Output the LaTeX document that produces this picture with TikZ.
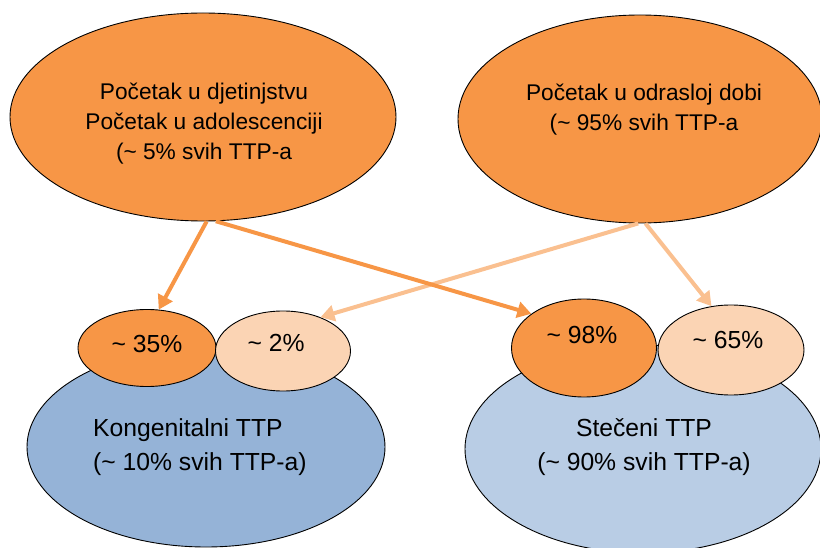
\documentclass[tikz,border=0pt]{standalone}
\usepackage{fontspec}
\setmainfont{Liberation Sans}
\usetikzlibrary{shapes.geometric,arrows.meta}
\definecolor{orng}{RGB}{247,150,70}
\definecolor{peach}{RGB}{251,212,180}
\definecolor{blueA}{RGB}{149,179,215}
\definecolor{blueB}{RGB}{185,205,229}
\definecolor{arrD}{RGB}{247,150,70}
\definecolor{arrL}{RGB}{250,192,144}
\begin{document}
\begin{tikzpicture}[x=1pt,y=-1pt,
 blob/.style={ellipse,draw=black,line width=0.9pt,inner sep=0pt},
 txt/.style={font=\fontsize{22.7}{30}\selectfont,align=center,inner sep=0pt},
 btxt/.style={font=\fontsize{24.7}{34}\selectfont,inner sep=0pt},
 conn/.style={line width=4pt,-{Triangle[length=14pt,width=16pt]}}]
\useasboundingbox (0,0) rectangle (820,548);
\clip (0,0) rectangle (820,548);
% big ellipses
\node[blob,fill=blueA,minimum width=358pt,minimum height=200pt] (kong) at (206,447) {};
\node[blob,fill=blueB,minimum width=356pt,minimum height=208pt] (stec) at (643,449) {};
\node[btxt,align=left,anchor=west] (kongt) at (93,447) {Kongenitalni TTP\\(\textasciitilde{} 10\% svih TTP-a)};
\node[btxt,align=center] (stect) at (644,447) {Stečeni TTP\\(\textasciitilde{} 90\% svih TTP-a)};
% small ellipses
\node[blob,fill=orng,minimum width=138pt,minimum height=77pt] (s35) at (147,348) {};
\node[blob,fill=peach,minimum width=135pt,minimum height=80pt] (s2) at (283,351) {};
\node[blob,fill=orng,minimum width=145pt,minimum height=98pt] (s98) at (584,348) {};
\node[blob,fill=peach,minimum width=146pt,minimum height=90pt] (s65) at (731,350) {};
\node[btxt] (s35t) at (147,344) {\textasciitilde{} 35\%};
\node[btxt] (s2t) at (276,343) {\textasciitilde{} 2\%};
\node[btxt] (s98t) at (582,335) {\textasciitilde{} 98\%};
\node[btxt] (s65t) at (728,340) {\textasciitilde{} 65\%};
% top ellipses
\node[blob,fill=orng,minimum width=386pt,minimum height=208pt] (child) at (203,117) {};
\node[blob,fill=orng,minimum width=364pt,minimum height=208pt] (adult) at (640,119) {};
\node[txt] (childt) at (204,124) {Početak u djetinjstvu\\Početak u adolescenciji\\(\textasciitilde{} 5\% svih TTP-a};
\node[txt] (adultt) at (644,110) {Početak u odrasloj dobi\\(\textasciitilde{} 95\% svih TTP-a};
% connectors
\draw[conn,arrL] (adult.-91) -- (s2.42);
\draw[conn,arrL] (adult.-87) -- (s65.114);
\draw[conn,arrD] (child.-88) -- (s35.73);
\draw[conn,arrD] (child.-83) -- (s98.147);
\end{tikzpicture}
\end{document}
